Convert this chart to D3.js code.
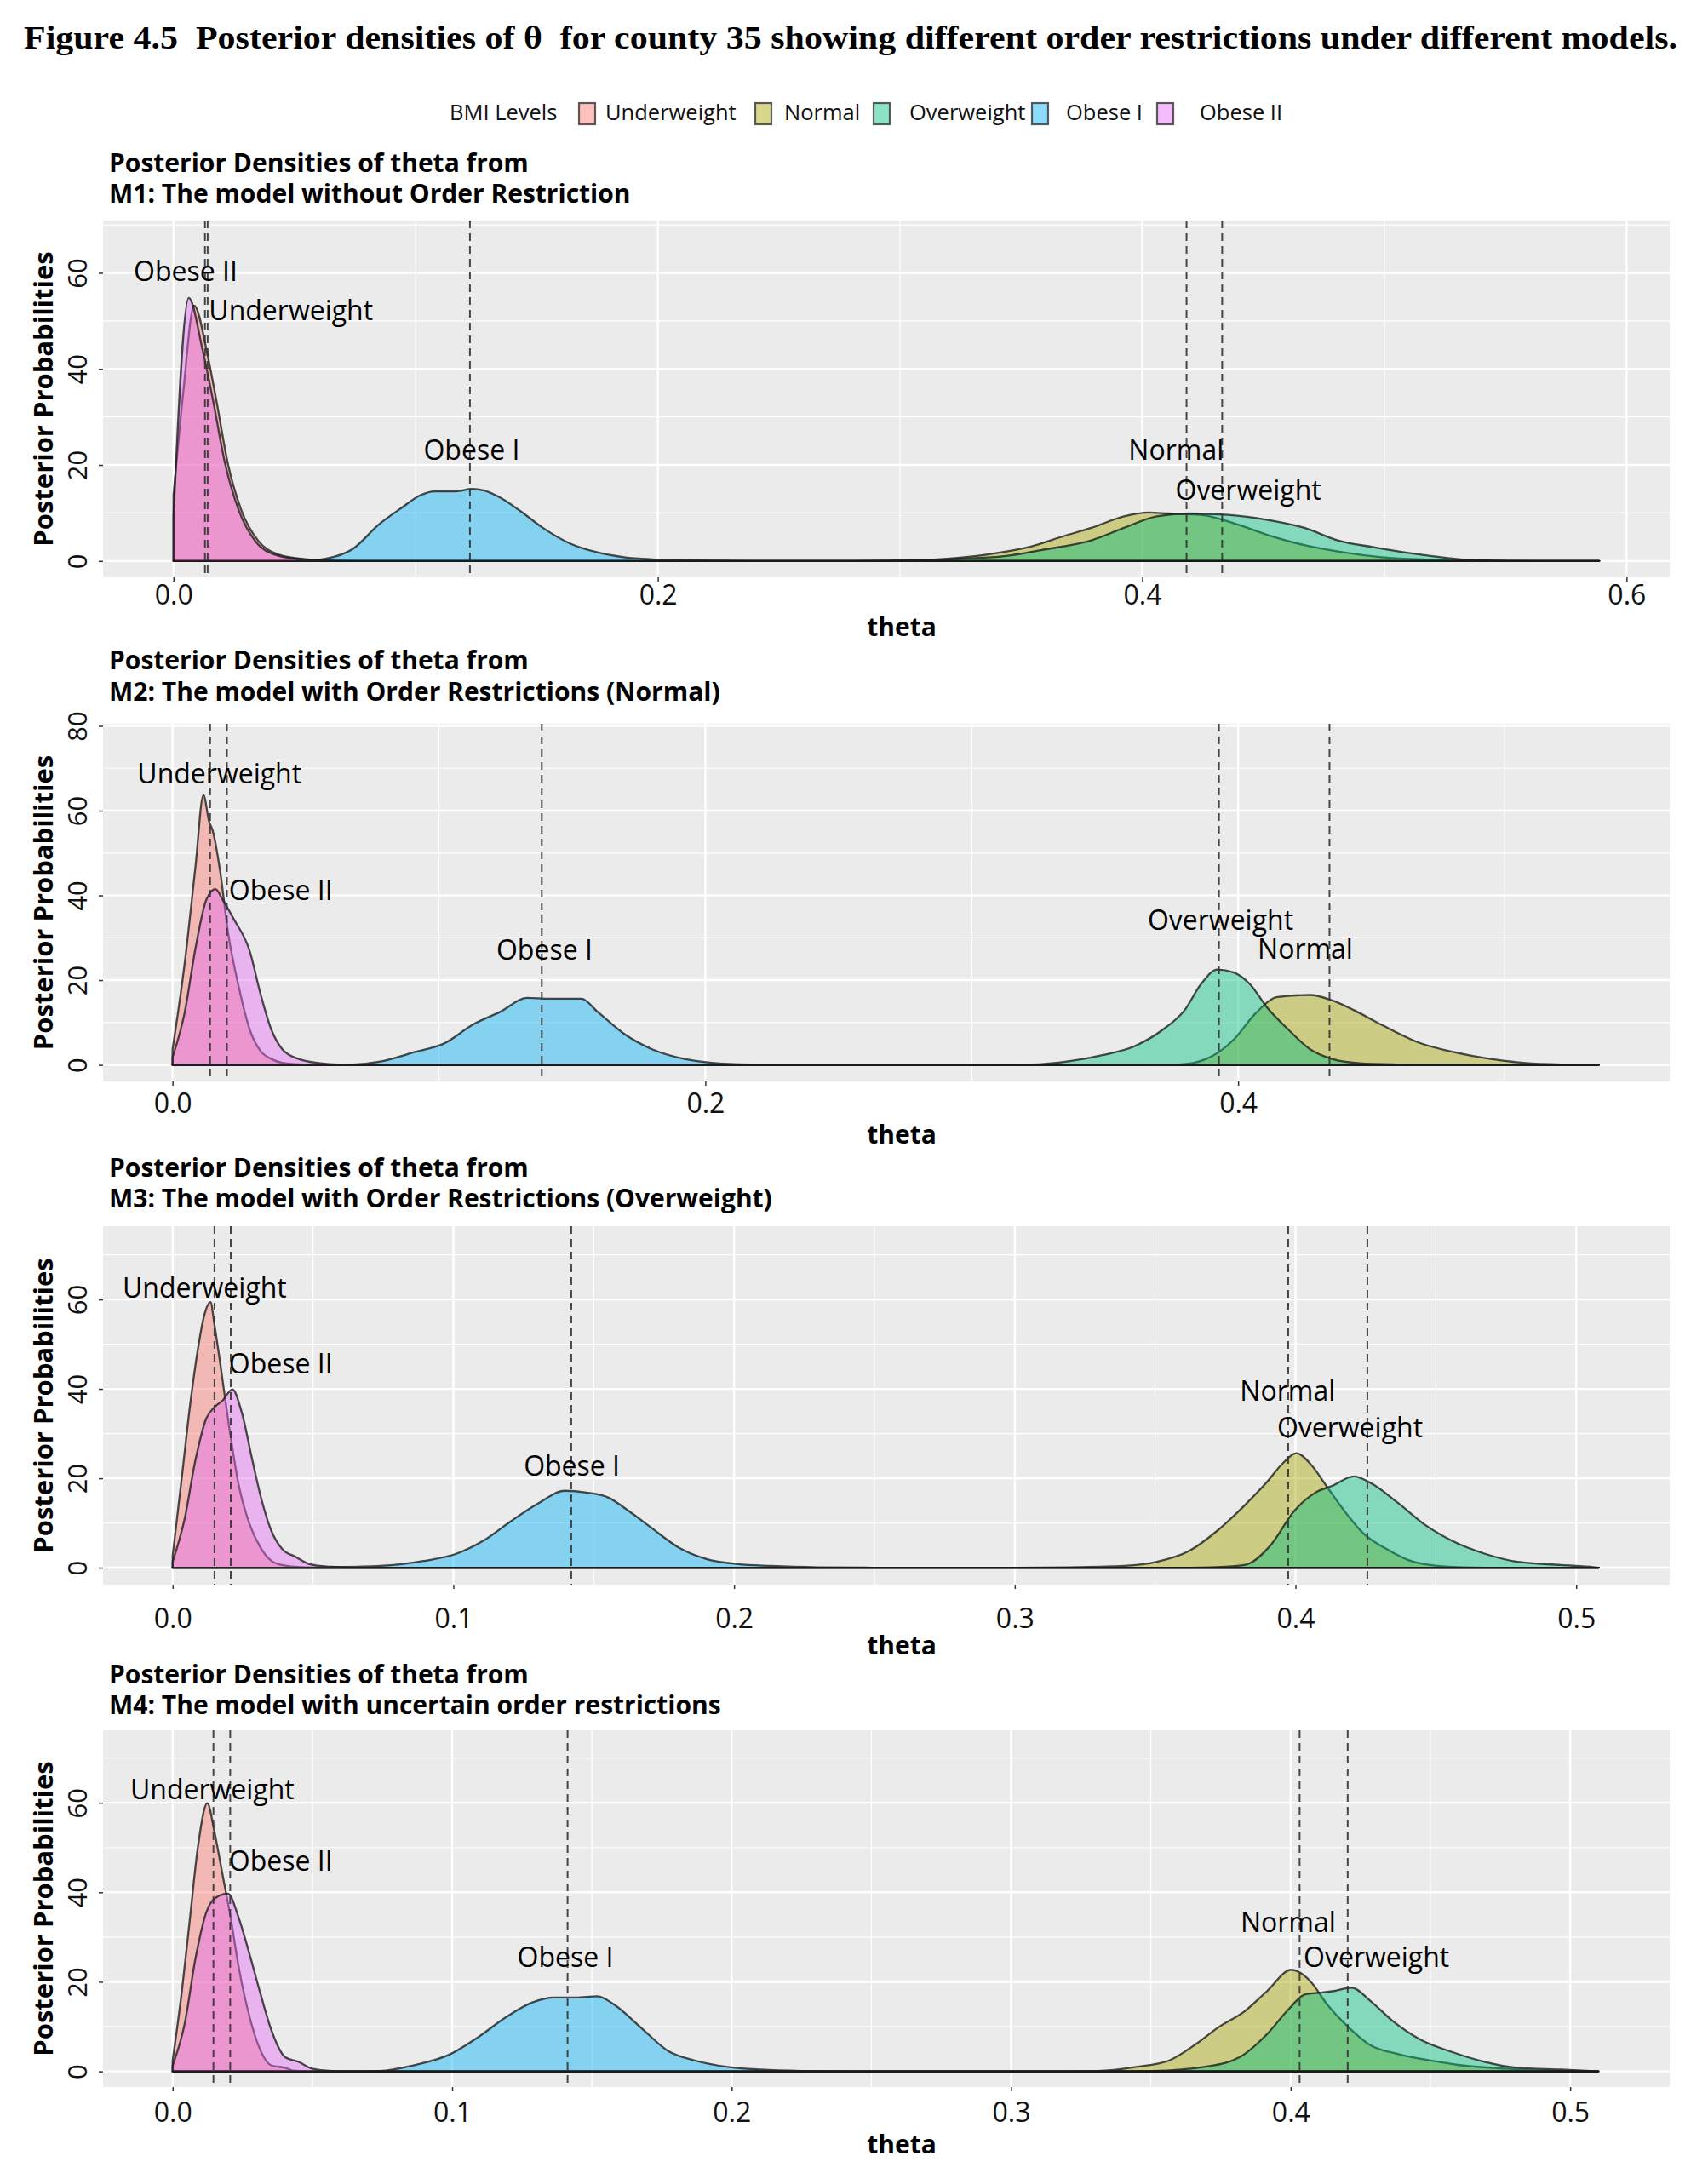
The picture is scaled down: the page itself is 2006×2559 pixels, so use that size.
<!DOCTYPE html>
<html>
<head>
<meta charset="utf-8">
<script src="https://cdn.jsdelivr.net/npm/d3@7"></script>
<style>
body { margin: 0; background: #fff; }
svg { display: block; }
</style>
</head>
<body>
<svg id="fig"></svg>
<script>
// ---- data ----
var levels = ["Underweight", "Normal", "Overweight", "Obese I", "Obese II"];
var levelColors = ["#F8766D", "#A3A500", "#00BF7D", "#00B0F6", "#E76BF3"];

var figTitle = "Figure 4.5  Posterior densities of \u03b8  for county 35 showing different order restrictions under different models.";
var panelTitles = [
    ["Posterior Densities of theta from", "M1: The model without Order Restriction"],
    ["Posterior Densities of theta from", "M2: The model with Order Restrictions (Normal)"],
    ["Posterior Densities of theta from", "M3: The model with Order Restrictions (Overweight)"],
    ["Posterior Densities of theta from", "M4: The model with uncertain order restrictions"]
];

// M1
var m1XTicks = [0, 0.2, 0.4, 0.6];
var m1XMinor = [0.1, 0.3, 0.5];
var m1YTicks = [0, 20, 40, 60];
var m1YMinor = [10, 30, 50, 70];
var m1XDomain = [-0.0291, 0.6178];
var m1YDomain = [-3.4, 70.9];
var m1Underweight = [[0, 13.7], [0.004, 35], [0.0085, 53.2], [0.0141, 42.8], [0.018, 32.6], [0.0224, 20.4], [0.028, 10.6], [0.035, 4.2], [0.043, 1.4], [0.052, 0.5], [0.06, 0.15], [0.08, 0], [0.5887, 0]];
var m1Normal = [[0, 0], [0.28, 0], [0.302, 0.1], [0.3247, 0.7], [0.338, 1.5], [0.354, 3.0], [0.3677, 5.2], [0.379, 6.9], [0.3925, 9.3], [0.4027, 10.1], [0.4106, 9.9], [0.4242, 9.6], [0.4377, 7.9], [0.4513, 5.5], [0.467, 3.3], [0.483, 1.8], [0.4988, 0.8], [0.517, 0.3], [0.535, 0.1], [0.555, 0], [0.5887, 0]];
var m1Overweight = [[0, 0], [0.29, 0], [0.31, 0.2], [0.343, 1.0], [0.3586, 2.3], [0.379, 4.3], [0.3925, 6.9], [0.406, 9.3], [0.4197, 9.9], [0.4355, 9.6], [0.4513, 8.6], [0.467, 6.9], [0.4807, 4.3], [0.4965, 2.8], [0.5146, 1.35], [0.5327, 0.3], [0.5507, 0.05], [0.565, 0], [0.5887, 0]];
var m1Obese1 = [[0, 0], [0.045, 0], [0.054, 0.1], [0.0628, 0.5], [0.074, 2.5], [0.085, 7.7], [0.094, 11], [0.102, 13.7], [0.1076, 14.5], [0.1166, 14.5], [0.1233, 15.0], [0.128, 14.7], [0.1345, 13.3], [0.1435, 10.3], [0.1525, 6.9], [0.1637, 3.65], [0.175, 1.8], [0.186, 0.8], [0.2, 0.3], [0.215, 0.1], [0.24, 0], [0.5887, 0]];
var m1Obese2 = [[0, 9.3], [0.0063, 54.8], [0.012, 44], [0.0165, 33], [0.021, 21], [0.027, 10.5], [0.034, 4], [0.042, 1.3], [0.05, 0.5], [0.058, 0.15], [0.075, 0], [0.5887, 0]];
var m1Means = [0.0141, 0.4183, 0.4330, 0.1224, 0.0130];
var m1LabelX = [0.0485, 0.414, 0.4438, 0.1231, 0.005];
var m1LabelY = [52.2, 23.1, 14.7, 23.1, 60.4];

// M2
var m2XTicks = [0, 0.2, 0.4];
var m2XMinor = [0.1, 0.3, 0.5];
var m2YTicks = [0, 20, 40, 60, 80];
var m2YMinor = [10, 30, 50, 70];
var m2XDomain = [-0.0261, 0.562];
var m2YDomain = [-3.9, 80.5];
var m2Underweight = [[0, 3.7], [0.0045, 23.7], [0.0086, 46.8], [0.0116, 63.7], [0.0137, 57.5], [0.0151, 55.2], [0.0178, 46], [0.0208, 31.4], [0.0249, 18.3], [0.029, 8.3], [0.033, 3.3], [0.0371, 1.4], [0.0412, 0.5], [0.049, 0.1], [0.06, 0], [0.5354, 0]];
var m2Normal = [[0, 0], [0.36, 0], [0.3778, 0.1], [0.388, 1.4], [0.3984, 6], [0.4066, 12.2], [0.4148, 16], [0.427, 16.5], [0.4353, 15.2], [0.4435, 12.9], [0.4537, 9.5], [0.4681, 5.2], [0.4804, 3.1], [0.4948, 1.4], [0.5071, 0.5], [0.5214, 0.1], [0.5354, 0]];
var m2Overweight = [[0, 0], [0.3, 0], [0.3225, 0.1], [0.3368, 0.9], [0.349, 2.3], [0.3614, 4.5], [0.3717, 8.3], [0.3799, 12.9], [0.386, 19], [0.3922, 22.5], [0.3984, 21.8], [0.4045, 19], [0.4107, 13.7], [0.4189, 8.3], [0.427, 3.7], [0.4353, 1.4], [0.4455, 0.4], [0.46, 0.1], [0.475, 0], [0.5354, 0]];
var m2Obese1 = [[0, 0], [0.055, 0], [0.0678, 0.1], [0.078, 0.8], [0.0902, 2.9], [0.1024, 5.2], [0.1127, 9.5], [0.1229, 12.5], [0.1331, 15.8], [0.1412, 15.6], [0.1535, 15.6], [0.1596, 12.5], [0.1698, 7.2], [0.18, 3.7], [0.1922, 1.4], [0.2024, 0.5], [0.2167, 0.1], [0.235, 0], [0.5354, 0]];
var m2Obese2 = [[0, 1.8], [0.0045, 12.2], [0.0086, 27.5], [0.0127, 39], [0.0161, 41.5], [0.0188, 39], [0.0229, 34.5], [0.029, 26.8], [0.033, 16.8], [0.0371, 8.3], [0.0412, 3.7], [0.0473, 1.4], [0.0555, 0.4], [0.062, 0.1], [0.075, 0], [0.5354, 0]];
var m2Means = [0.0141, 0.4343, 0.3928, 0.1386, 0.0204];
var m2LabelX = [0.0176, 0.4252, 0.3934, 0.1396, 0.0406];
var m2LabelY = [68.7, 27.3, 34.1, 27.2, 41.2];

// M3
var m3XTicks = [0, 0.1, 0.2, 0.3, 0.4, 0.5];
var m3XMinor = [0.05, 0.15, 0.25, 0.35, 0.45];
var m3YTicks = [0, 20, 40, 60];
var m3YMinor = [10, 30, 50, 70];
var m3XDomain = [-0.0248, 0.5333];
var m3YDomain = [-3.8, 76.4];
var m3Underweight = [[0, 2.7], [0.0033, 20.4], [0.0062, 36.3], [0.0091, 49.3], [0.011, 55.8], [0.0135, 59.4], [0.0149, 54.3], [0.0168, 46.4], [0.0197, 33.4], [0.0236, 18.3], [0.0275, 9.6], [0.0313, 4.5], [0.0352, 1.5], [0.039, 0.6], [0.0468, 0.1], [0.055, 0], [0.508, 0]];
var m3Normal = [[0, 0], [0.3, 0], [0.3195, 0.1], [0.339, 0.4], [0.3506, 1.3], [0.3623, 3.8], [0.372, 8.2], [0.3818, 13.9], [0.3896, 19], [0.3954, 23.3], [0.4003, 25.6], [0.4052, 23.3], [0.411, 18.3], [0.4168, 13.2], [0.4246, 7.4], [0.4324, 4.2], [0.4402, 1.7], [0.448, 0.6], [0.4597, 0.1], [0.475, 0], [0.508, 0]];
var m3Overweight = [[0, 0], [0.355, 0], [0.3701, 0.1], [0.3818, 0.6], [0.3915, 5.3], [0.3993, 12.5], [0.4071, 16.8], [0.413, 18.3], [0.4208, 20.4], [0.4266, 19], [0.4363, 14.6], [0.4461, 9.6], [0.4558, 6], [0.4675, 3.1], [0.4792, 1.3], [0.4947, 0.6], [0.5064, 0.1], [0.508, 0]];
var m3Obese1 = [[0, 0], [0.045, 0], [0.0545, 0.1], [0.0739, 0.4], [0.0894, 1.5], [0.101, 3.1], [0.1106, 6], [0.1203, 10.3], [0.13, 14.3], [0.1397, 17.2], [0.1474, 16.8], [0.1551, 15.7], [0.1629, 12.5], [0.1706, 8.9], [0.1803, 4.5], [0.1899, 2.0], [0.2015, 0.8], [0.2132, 0.4], [0.23, 0.1], [0.25, 0], [0.508, 0]];
var m3Obese2 = [[0, 1.3], [0.0043, 11], [0.0081, 24], [0.012, 33.4], [0.0149, 35.9], [0.0178, 37.4], [0.0213, 39.9], [0.0246, 34.8], [0.0284, 24], [0.0313, 16.1], [0.0352, 8.2], [0.039, 4.2], [0.0439, 2.4], [0.0487, 0.8], [0.0565, 0.2], [0.065, 0], [0.508, 0]];
var m3Means = [0.0149, 0.3974, 0.4256, 0.142, 0.0207];
var m3LabelX = [0.0114, 0.3972, 0.4194, 0.1422, 0.0385];
var m3LabelY = [62.6, 39.5, 31.4, 22.7, 45.7];

// M4
var m4XTicks = [0, 0.1, 0.2, 0.3, 0.4, 0.5];
var m4XMinor = [0.05, 0.15, 0.25, 0.35, 0.45];
var m4YTicks = [0, 20, 40, 60];
var m4YMinor = [10, 30, 50, 70];
var m4XDomain = [-0.0249, 0.5356];
var m4YDomain = [-3.5, 76.2];
var m4Underweight = [[0, 2.4], [0.0033, 17.9], [0.0062, 34.2], [0.0091, 50.4], [0.0124, 59.9], [0.015, 53.4], [0.0179, 43.8], [0.0208, 34.2], [0.0237, 23.1], [0.0276, 12], [0.0315, 4.6], [0.0354, 1.3], [0.0402, 0.8], [0.0431, 0.2], [0.05, 0], [0.5101, 0]];
var m4Normal = [[0, 0], [0.315, 0], [0.331, 0.1], [0.3447, 1.0], [0.3564, 2.4], [0.3661, 6.1], [0.374, 9.8], [0.3837, 13.5], [0.3915, 17.9], [0.4003, 22.7], [0.4071, 20.1], [0.413, 15], [0.4208, 9.8], [0.4286, 5.8], [0.4383, 3.9], [0.4501, 2.4], [0.4618, 1.3], [0.4774, 0.6], [0.493, 0.1], [0.5101, 0]];
var m4Overweight = [[0, 0], [0.335, 0], [0.3505, 0.1], [0.37, 1.1], [0.3818, 3.2], [0.3915, 8.3], [0.3993, 13.9], [0.4052, 17.2], [0.411, 17.6], [0.4149, 17.9], [0.4218, 18.7], [0.4286, 15.7], [0.4364, 11.3], [0.4461, 7.2], [0.4579, 4.3], [0.4696, 2.1], [0.4813, 0.8], [0.4969, 0.4], [0.5101, 0]];
var m4Obese1 = [[0, 0], [0.06, 0], [0.0742, 0.1], [0.0859, 1.3], [0.0995, 3.9], [0.1092, 7.6], [0.119, 12], [0.1287, 15.4], [0.1364, 16.5], [0.1442, 16.5], [0.152, 16.8], [0.1578, 15], [0.1675, 9.8], [0.1772, 4.6], [0.187, 2.4], [0.1986, 1.0], [0.2103, 0.4], [0.225, 0.1], [0.245, 0], [0.5101, 0]];
var m4Obese2 = [[0, 1.3], [0.0043, 10.6], [0.0082, 25.3], [0.0121, 35.6], [0.015, 38.6], [0.0198, 39.7], [0.0237, 34.2], [0.0276, 26], [0.0315, 17.2], [0.0354, 9.1], [0.0402, 3.2], [0.0451, 2.1], [0.05, 0.6], [0.0568, 0.1], [0.065, 0], [0.5101, 0]];
var m4Means = [0.0146, 0.4032, 0.4204, 0.1413, 0.0206];
var m4LabelX = [0.0142, 0.3991, 0.4307, 0.1405, 0.0387];
var m4LabelY = [63, 33.4, 25.5, 25.5, 47.1];

// ---- layout (pixels) ----
var W = 2006, H = 2559;
var panelLeft = 121, panelRight = 1961;
var layout = [
    {top: 259, bottom: 678, titleY: [202, 238], tickY: 710, thetaY: 747},
    {top: 850, bottom: 1270, titleY: [786, 823], tickY: 1307, thetaY: 1343},
    {top: 1440, bottom: 1861, titleY: [1382, 1418], tickY: 1912, thetaY: 1943},
    {top: 2032, bottom: 2451, titleY: [1977, 2013], tickY: 2492, thetaY: 2529}
];
var legendKeyX = [680, 887, 1026, 1212, 1359];
var legendTextX = [711, 921, 1068, 1252, 1409];

var panels = [
    {xt: m1XTicks, xm: m1XMinor, yt: m1YTicks, ym: m1YMinor, xd: m1XDomain, yd: m1YDomain,
     series: [m1Underweight, m1Normal, m1Overweight, m1Obese1, m1Obese2], means: m1Means, lx: m1LabelX, ly: m1LabelY},
    {xt: m2XTicks, xm: m2XMinor, yt: m2YTicks, ym: m2YMinor, xd: m2XDomain, yd: m2YDomain,
     series: [m2Underweight, m2Normal, m2Overweight, m2Obese1, m2Obese2], means: m2Means, lx: m2LabelX, ly: m2LabelY},
    {xt: m3XTicks, xm: m3XMinor, yt: m3YTicks, ym: m3YMinor, xd: m3XDomain, yd: m3YDomain,
     series: [m3Underweight, m3Normal, m3Overweight, m3Obese1, m3Obese2], means: m3Means, lx: m3LabelX, ly: m3LabelY},
    {xt: m4XTicks, xm: m4XMinor, yt: m4YTicks, ym: m4YMinor, xd: m4XDomain, yd: m4YDomain,
     series: [m4Underweight, m4Normal, m4Overweight, m4Obese1, m4Obese2], means: m4Means, lx: m4LabelX, ly: m4LabelY}
];

var svg = d3.select("#fig")
    .attr("width", W)
    .attr("height", H)
    .attr("viewBox", "0 0 " + W + " " + H);

svg.append("rect").attr("width", W).attr("height", H).attr("fill", "#fff");

// figure caption
svg.append("text")
    .attr("x", 28).attr("y", 57)
    .attr("font-family", "'Liberation Serif', 'Times New Roman', serif")
    .attr("font-weight", "bold")
    .attr("font-size", 37)
    .attr("textLength", 1942)
    .attr("lengthAdjust", "spacingAndGlyphs")
    .attr("fill", "#000")
    .style("white-space", "pre")
    .text(figTitle);

// legend
var legend = svg.append("g").attr("font-family", "'Open Sans', sans-serif").attr("font-size", 25.5).attr("fill", "#111");
legend.append("text").attr("x", 528).attr("y", 141).text("BMI Levels");
levels.forEach(function (lev, i) {
    legend.append("rect")
        .attr("x", legendKeyX[i]).attr("y", 121)
        .attr("width", 19).attr("height", 25)
        .attr("fill", "#fff");
    legend.append("rect")
        .attr("x", legendKeyX[i]).attr("y", 121)
        .attr("width", 19).attr("height", 25)
        .attr("fill", levelColors[i]).attr("fill-opacity", 0.45)
        .attr("stroke", "#333").attr("stroke-opacity", 0.8).attr("stroke-width", 2.2);
    legend.append("text").attr("x", legendTextX[i]).attr("y", 141).text(lev);
});

function drawPanel(p, L, k) {
    var x = d3.scaleLinear().domain(p.xd).range([panelLeft, panelRight]);
    var y = d3.scaleLinear().domain(p.yd).range([L.bottom, L.top]);
    var g = svg.append("g");

    // titles
    L.titleY.forEach(function (ty, j) {
        g.append("text")
            .attr("x", 128).attr("y", ty)
            .attr("font-family", "'Open Sans', sans-serif")
            .attr("font-weight", "bold")
            .attr("font-size", 30)
            .attr("fill", "#000")
            .text(panelTitles[k][j]);
    });

    // background + grid
    g.append("rect")
        .attr("x", panelLeft).attr("y", L.top)
        .attr("width", panelRight - panelLeft).attr("height", L.bottom - L.top)
        .attr("fill", "#EBEBEB");

    g.selectAll(".ymin").data(p.ym).enter().append("line")
        .attr("x1", panelLeft).attr("x2", panelRight)
        .attr("y1", function (d) { return y(d); }).attr("y2", function (d) { return y(d); })
        .attr("stroke", "#fff").attr("stroke-width", 1.2);
    g.selectAll(".xmin").data(p.xm).enter().append("line")
        .attr("y1", L.top).attr("y2", L.bottom)
        .attr("x1", function (d) { return x(d); }).attr("x2", function (d) { return x(d); })
        .attr("stroke", "#fff").attr("stroke-width", 1.2);
    g.selectAll(".ymaj").data(p.yt).enter().append("line")
        .attr("x1", panelLeft).attr("x2", panelRight)
        .attr("y1", function (d) { return y(d); }).attr("y2", function (d) { return y(d); })
        .attr("stroke", "#fff").attr("stroke-width", 2.4);
    g.selectAll(".xmaj").data(p.xt).enter().append("line")
        .attr("y1", L.top).attr("y2", L.bottom)
        .attr("x1", function (d) { return x(d); }).attr("x2", function (d) { return x(d); })
        .attr("stroke", "#fff").attr("stroke-width", 2.4);

    // densities
    var area = d3.area()
        .x(function (d) { return x(d[0]); })
        .y0(y(0))
        .y1(function (d) { return y(d[1]); })
        .curve(d3.curveMonotoneX);

    p.series.forEach(function (s, i) {
        g.append("path")
            .datum(s)
            .attr("d", area)
            .attr("fill", levelColors[i])
            .attr("fill-opacity", 0.44)
            .attr("stroke", "#1a1a1a")
            .attr("stroke-opacity", 0.78)
            .attr("stroke-width", 2.3)
            .attr("stroke-linejoin", "round");
    });

    // mean lines
    g.selectAll(".mean").data(p.means).enter().append("line")
        .attr("x1", function (d) { return x(d); }).attr("x2", function (d) { return x(d); })
        .attr("y1", L.top).attr("y2", L.bottom)
        .attr("stroke", "#333")
        .attr("stroke-opacity", 0.9)
        .attr("stroke-width", 2)
        .attr("stroke-dasharray", "9,6");

    // labels
    levels.forEach(function (lev, i) {
        g.append("text")
            .attr("x", x(p.lx[i])).attr("y", y(p.ly[i]))
            .attr("dy", "0.36em")
            .attr("text-anchor", "middle")
            .attr("font-family", "'Open Sans', sans-serif")
            .attr("font-size", 32)
            .attr("fill", "#000")
            .text(lev);
    });

    // axes
    var xAxis = g.append("g").attr("transform", "translate(0," + L.bottom + ")")
        .call(d3.axisBottom(x).tickValues(p.xt).tickSize(5).tickPadding(0).tickFormat(d3.format(".1f")));
    xAxis.select(".domain").remove();
    xAxis.selectAll(".tick line").attr("stroke", "#333").attr("stroke-width", 1.5);
    xAxis.selectAll(".tick text")
        .attr("y", L.tickY - L.bottom).attr("dy", 0)
        .attr("font-family", "'Open Sans', sans-serif")
        .attr("font-size", 32)
        .attr("fill", "#111");

    var yAxis = g.append("g").attr("transform", "translate(" + panelLeft + ",0)")
        .call(d3.axisLeft(y).tickValues(p.yt).tickSize(5).tickFormat(d3.format("d")));
    yAxis.select(".domain").remove();
    yAxis.selectAll(".tick line").attr("stroke", "#333").attr("stroke-width", 1.5);
    yAxis.selectAll(".tick text")
        .attr("x", 0).attr("dy", 0)
        .attr("transform", "translate(-19,0) rotate(-90)")
        .attr("text-anchor", "middle")
        .attr("font-family", "'Open Sans', sans-serif")
        .attr("font-size", 31)
        .attr("fill", "#111");

    // axis titles
    g.append("text")
        .attr("x", 1059).attr("y", L.thetaY)
        .attr("text-anchor", "middle")
        .attr("font-family", "'Open Sans', sans-serif")
        .attr("font-weight", "bold")
        .attr("font-size", 30)
        .text("theta");
    g.append("text")
        .attr("transform", "translate(62," + ((L.top + L.bottom) / 2) + ") rotate(-90)")
        .attr("text-anchor", "middle")
        .attr("font-family", "'Open Sans', sans-serif")
        .attr("font-weight", "bold")
        .attr("font-size", 31)
        .text("Posterior Probabilities");
}

panels.forEach(function (p, k) { drawPanel(p, layout[k], k); });
</script>
</body>
</html>
